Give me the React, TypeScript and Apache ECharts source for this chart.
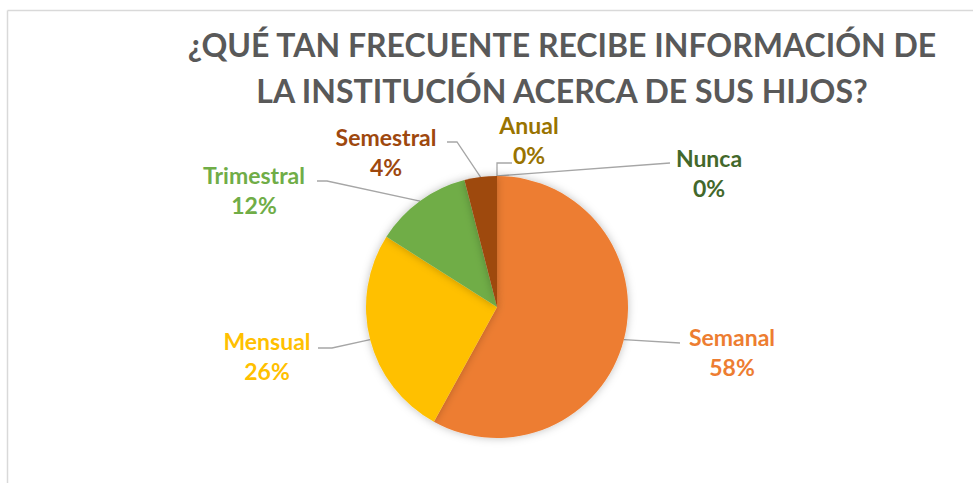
import React, { useEffect, useRef } from "react";
import * as echarts from "echarts";

const categories = ["Semanal", "Mensual", "Trimestral", "Semestral", "Anual", "Nunca"];
const values = [29, 13, 6, 2, 0, 0];
const sliceColors = ["#ED7D31", "#FFC000", "#70AD47", "#9E480E", "#997300", "#43682B"];
const labelColors = ["#ED7D31", "#FFC000", "#70AD47", "#9E480E", "#997300", "#43682B"];
const titleLines = ["¿QUÉ TAN FRECUENTE RECIBE INFORMACIÓN DE", "LA INSTITUCIÓN ACERCA DE SUS HIJOS?"];

// label placement: [labelX, labelY, elbowX, elbowY, endX, endY]
const labelPlacement = [
  [732, 352, 680, 343, 680, 343],
  [267, 356, 332, 348, 318, 348],
  [254, 190, 327, 181, 317, 181],
  [386, 152, 457, 142, 447, 142],
  [529, 140, 497, 163, 512, 163],
  [709, 173, 670, 163, 670, 163],
];

const CX = 497;
const CY = 307;
const R = 131;

export default function App() {
  const ref = useRef<HTMLDivElement>(null);
  useEffect(() => {
    if (!ref.current) return;
    const chart = echarts.init(ref.current, undefined, { renderer: "svg" });
    const total = values.reduce((a, b) => a + b, 0);
    const edgePoints: number[][] = [];
    let cum = 0;
    values.forEach((v) => {
      const mid = ((cum + v / 2) / total) * Math.PI * 2;
      edgePoints.push([CX + R * Math.sin(mid), CY - R * Math.cos(mid)]);
      cum += v;
    });
    const font = "Lato, 'Open Sans', sans-serif";
    const titleStyle = {
      fontFamily: font,
      fontWeight: "bold",
      fontSize: 32,
      lineHeight: 36,
      color: "#595959",
    };
    chart.setOption({
      animation: false,
      backgroundColor: "#ffffff",
      title: titleLines.map((t, i) => ({
        text: t,
        left: 562,
        top: 26 + i * 46,
        padding: 0,
        textAlign: "center",
        textStyle: titleStyle,
      })),
      graphic: [
        { type: "line", shape: { x1: 7.5, y1: 10.5, x2: 973, y2: 10.5 }, style: { stroke: "#d9d9d9", lineWidth: 1.5 } },
        { type: "line", shape: { x1: 7.5, y1: 10.5, x2: 7.5, y2: 483 }, style: { stroke: "#d9d9d9", lineWidth: 1.5 } },
      ],
      series: [
        {
          type: "pie",
          center: [CX, CY],
          radius: R,
          startAngle: 90,
          clockwise: true,
          avoidLabelOverlap: false,
          stillShowZeroSum: true,
          itemStyle: {
            borderWidth: 0,
            shadowBlur: 8,
            shadowColor: "rgba(0,0,0,0.25)",
          },
          label: {
            show: true,
            position: "outside",
            fontFamily: font,
            fontWeight: "bold",
            fontSize: 23,
            lineHeight: 30,
            align: "center",
            formatter: (p: any) => `${p.name}\n${Math.round(p.percent)}%`,
          },
          labelLine: {
            show: true,
            lineStyle: { color: "#a6a6a6", width: 1.3 },
          },
          labelLayout: (params: any) => {
            const i = params.dataIndex;
            const lp = labelPlacement[i];
            const e = edgePoints[i];
            return {
              x: lp[0],
              y: lp[1],
              align: "center",
              verticalAlign: "middle",
              labelLinePoints: [
                [e[0], e[1]],
                [lp[2], lp[3]],
                [lp[4], lp[5]],
              ],
            };
          },
          data: categories.map((c, i) => ({
            name: c,
            value: values[i],
            itemStyle: { color: sliceColors[i] },
            label: { color: labelColors[i] },
          })),
        },
      ],
    });
    return () => chart.dispose();
  }, []);
  return (
    <div
      ref={ref}
      style={{ position: "absolute", left: 0, top: 0, width: 973, height: 483 }}
    />
  );
}
